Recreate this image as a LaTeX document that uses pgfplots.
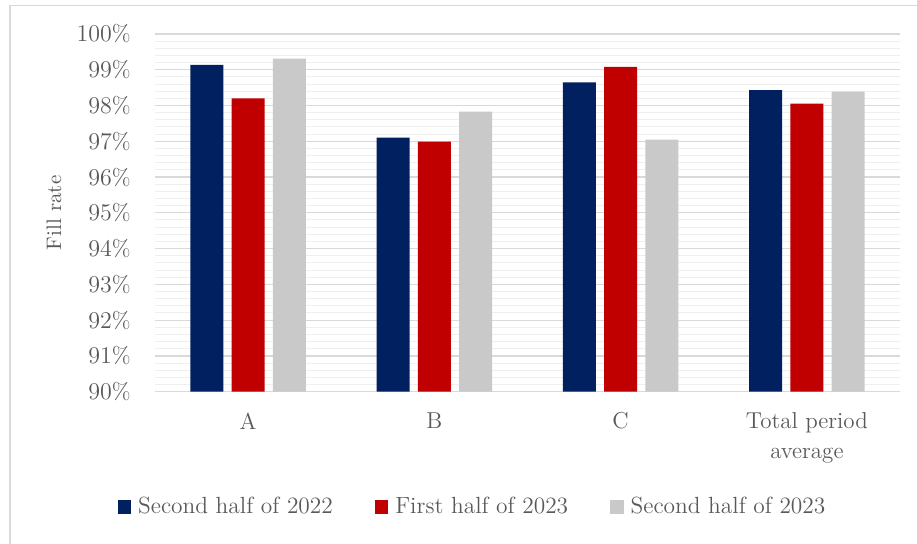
\documentclass[border=0pt]{standalone}
\usepackage{pgfplots}
\pgfplotsset{compat=1.18}
\definecolor{navy}{HTML}{002060}
\definecolor{dred}{HTML}{C00000}
\definecolor{lgray}{HTML}{C9C9C9}
\definecolor{txtgray}{HTML}{595959}
\definecolor{majgrid}{HTML}{D9D9D9}
\definecolor{mingrid}{HTML}{EFEFEF}
\begin{document}
\begin{tikzpicture}
\path[use as bounding box] (-77.5pt,-76.15pt) rectangle (381pt,195.85pt);
\draw[majgrid, line width=0.6pt] (-72.5pt,-76.15pt) -- (-72.5pt,193pt) -- (381pt,193pt);
\begin{axis}[
  at={(0,0)}, anchor=south west,
  scale only axis,
  width=372.5pt, height=178.85pt,
  ybar=4.15pt, bar width=16.5pt,
  xmin=-0.5, xmax=3.5,
  ymin=90, ymax=100,
  xtick={0,1,2,3},
  xticklabels={A,B,C,{Total period\\average}},
  ytick={90,91,...,100},
  minor y tick num=4,
  yticklabel={\pgfmathprintnumber{\tick}\%},
  axis line style={draw=none},
  major tick length=0pt, minor tick length=0pt,
  ymajorgrids, yminorgrids,
  major grid style={majgrid, line width=0.6pt},
  minor grid style={mingrid, line width=0.5pt},
  tick label style={font=\fontsize{11.5}{15}\selectfont, text=txtgray},
  y tick label style={anchor=east, inner sep=0pt, xshift=-12pt},
  x tick label style={anchor=north, inner sep=0pt, yshift=-10.3pt, align=center},
  ylabel={Fill rate},
  ylabel style={font=\fontsize{10.5}{12.6}\selectfont, text=txtgray, at={(axis description cs:0,0.5)}, anchor=center, rotate=0, yshift=50.5pt},
  legend columns=3,
  legend image code/.code={\fill[#1,draw=none] (0pt,-3.35pt) rectangle (6.7pt,3.35pt); \path (10.2pt,0pt);},
  legend style={at={(0,0)}, anchor=west, xshift=-18.85pt, yshift=-57.65pt, draw=none, fill=none,
    font=\fontsize{11.7}{14}\selectfont, text=txtgray, inner sep=0pt,
    nodes={inner sep=0pt, anchor=west},
    /tikz/every even column/.append style={column sep=21pt}},
]
\addplot[fill=navy, draw=none] coordinates {(0,99.14) (1,97.10) (2,98.65) (3,98.43)};
\addplot[fill=dred, draw=none] coordinates {(0,98.20) (1,96.99) (2,99.08) (3,98.05)};
\addplot[fill=lgray, draw=none] coordinates {(0,99.31) (1,97.83) (2,97.05) (3,98.39)};
\legend{Second half of 2022, First half of 2023, Second half of 2023}
\end{axis}
\end{tikzpicture}
\end{document}
